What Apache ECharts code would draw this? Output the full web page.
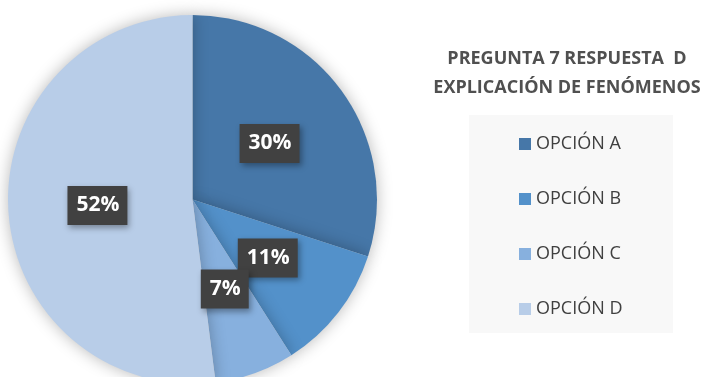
<!DOCTYPE html>
<html>
<head>
<meta charset="utf-8">
<script src="https://cdn.jsdelivr.net/npm/echarts@6/dist/echarts.min.js"></script>
<style>
  html, body { margin: 0; padding: 0; background: #ffffff; }
  #chart { width: 701px; height: 377px; }
</style>
</head>
<body>
<div id="chart"></div>
<script>
// Answers to question 7 (answer D: explanation of phenomena), as percentages
const categories = ['OPCIÓN A', 'OPCIÓN B', 'OPCIÓN C', 'OPCIÓN D'];
const values = [30, 11, 7, 52];
const colors = ['#4677a8', '#5391ca', '#87b0de', '#b8cde8'];
const titleLines = ['PREGUNTA 7 RESPUESTA  D', 'EXPLICACIÓN DE FENÓMENOS'];

const chart = echarts.init(document.getElementById('chart'), null, { renderer: 'canvas' });

const pieData = categories.map((name, i) => ({
  name: name,
  value: values[i],
  itemStyle: { color: colors[i] }
}));

chart.setOption({
  animation: false,
  backgroundColor: '#ffffff',
  title: {
    text: titleLines.join('\n'),
    left: 567,
    top: 44,
    padding: 0,
    textAlign: 'center',
    textStyle: {
      fontFamily: 'Open Sans',
      fontSize: 18,
      fontWeight: 'bold',
      color: '#505050',
      lineHeight: 29
    }
  },
  graphic: [{
    type: 'rect',
    z: -1,
    shape: { x: 469, y: 115, width: 204, height: 218 },
    style: { fill: '#f8f8f8' }
  }],
  legend: {
    orient: 'vertical',
    left: 519,
    top: 134,
    padding: 0,
    icon: 'rect',
    itemWidth: 12,
    itemHeight: 12,
    itemGap: 35,
    data: categories,
    textStyle: {
      fontFamily: 'Open Sans',
      fontSize: 18,
      color: '#404040',
      lineHeight: 20
    }
  },
  series: [{
    type: 'pie',
    center: [192.5, 199.5],
    radius: [0, 184.5],
    startAngle: 90,
    clockwise: true,
    silent: true,
    avoidLabelOverlap: false,
    labelLayout: { hideOverlap: false },
    itemStyle: {
      shadowBlur: 16,
      shadowColor: 'rgba(0,0,0,0.28)'
    },
    label: {
      show: true,
      position: 'inside',
      formatter: '{c}%',
      fontFamily: 'Open Sans',
      fontSize: 21,
      fontWeight: 'bold',
      lineHeight: 24,
      color: '#ffffff',
      backgroundColor: '#414141',
      padding: [9, 8, 6, 9],
      shadowBlur: 6,
      shadowOffsetX: 2,
      shadowOffsetY: 3,
      shadowColor: 'rgba(0,0,0,0.35)'
    },
    labelLine: { show: false },
    data: pieData
  }]
});
</script>
</body>
</html>
